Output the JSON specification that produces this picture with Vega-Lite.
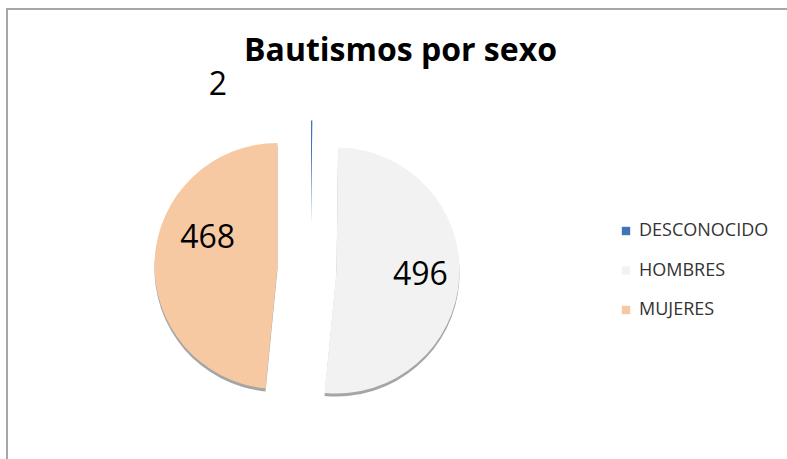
{
  "$schema": "https://vega.github.io/schema/vega-lite/v6.json",
  "width": 787,
  "height": 459,
  "autosize": {"type": "fit", "contains": "padding"},
  "padding": {"left": 6, "top": 8, "right": -4, "bottom": -4},
  "background": "white",
  "title": {"text": "Bautismos por sexo", "font": "Open Sans", "fontSize": 32, "fontWeight": "bold", "color": "#000000", "anchor": "middle", "frame": "group", "offset": -60, "dx": 2},
  "layer": [
    {
      "data": {"values": [{"marco": 1}]},
      "mark": {"type": "rect", "fill": null, "stroke": "#a6a6a6", "strokeWidth": 2}
    },
    {
      "data": {"values": [
        {"sexo": "DESCONOCIDO", "n": 2},
        {"sexo": "HOMBRES", "n": 496},
        {"sexo": "MUJERES", "n": 468}
      ]},
      "encoding": {
        "theta": {"field": "n", "type": "quantitative", "stack": true},
        "order": {"field": "sexo", "sort": "ascending"}
      },
      "layer": [
        {
          "mark": {"type": "arc", "radius": 123, "xOffset": -62, "yOffset": 38},
          "encoding": {
            "color": {"value": "#7f7f7f"},
            "opacity": {"condition": {"test": "datum.sexo === 'HOMBRES'", "value": 0.7}, "value": 0}
          }
        },
        {
          "mark": {"type": "arc", "radius": 123, "xOffset": -121, "yOffset": 33.5},
          "encoding": {
            "color": {"value": "#7f7f7f"},
            "opacity": {"condition": {"test": "datum.sexo === 'MUJERES'", "value": 0.7}, "value": 0}
          }
        },
        {
          "mark": {"type": "arc", "radius": 123, "xOffset": -62, "yOffset": 35},
          "encoding": {
            "color": {"field": "sexo", "type": "nominal",
              "scale": {"domain": ["DESCONOCIDO", "HOMBRES", "MUJERES"], "range": ["#3f74b8", "#f2f2f2", "#f7c9a3"]},
              "legend": {"title": null, "orient": "none", "legendX": 610, "legendY": 213, "symbolType": "square", "symbolSize": 70, "symbolStrokeWidth": 0, "labelFont": "Open Sans", "labelFontSize": 18, "labelColor": "#333333", "rowPadding": 21.5, "labelOffset": 4}},
            "opacity": {"condition": {"test": "datum.sexo === 'HOMBRES'", "value": 1}, "value": 0}
          }
        },
        {
          "mark": {"type": "arc", "radius": 123, "xOffset": -121, "yOffset": 30.5},
          "encoding": {
            "color": {"field": "sexo", "type": "nominal"},
            "opacity": {"condition": {"test": "datum.sexo === 'MUJERES'", "value": 1}, "value": 0}
          }
        },
        {
          "mark": {"type": "arc", "radius": 105, "xOffset": -87.5, "yOffset": -10},
          "encoding": {
            "color": {"field": "sexo", "type": "nominal"},
            "opacity": {"condition": {"test": "datum.sexo === 'DESCONOCIDO'", "value": 1}, "value": 0}
          }
        },
        {
          "mark": {"type": "text", "radius": 84, "xOffset": -62, "yOffset": 35, "font": "Open Sans", "fontSize": 32, "color": "#000000"},
          "encoding": {
            "text": {"field": "n", "type": "quantitative"},
            "opacity": {"condition": {"test": "datum.sexo === 'HOMBRES'", "value": 1}, "value": 0}
          }
        },
        {
          "mark": {"type": "text", "radius": 75, "xOffset": -121, "yOffset": 30.5, "dx": 5, "dy": -24, "font": "Open Sans", "fontSize": 32, "color": "#000000"},
          "encoding": {
            "text": {"field": "n", "type": "quantitative"},
            "opacity": {"condition": {"test": "datum.sexo === 'MUJERES'", "value": 1}, "value": 0}
          }
        },
        {
          "mark": {"type": "text", "radius": 141, "xOffset": -87.5, "yOffset": -10, "dx": -94, "font": "Open Sans", "fontSize": 32, "color": "#000000"},
          "encoding": {
            "text": {"field": "n", "type": "quantitative"},
            "opacity": {"condition": {"test": "datum.sexo === 'DESCONOCIDO'", "value": 1}, "value": 0}
          }
        }
      ]
    }
  ]
}
